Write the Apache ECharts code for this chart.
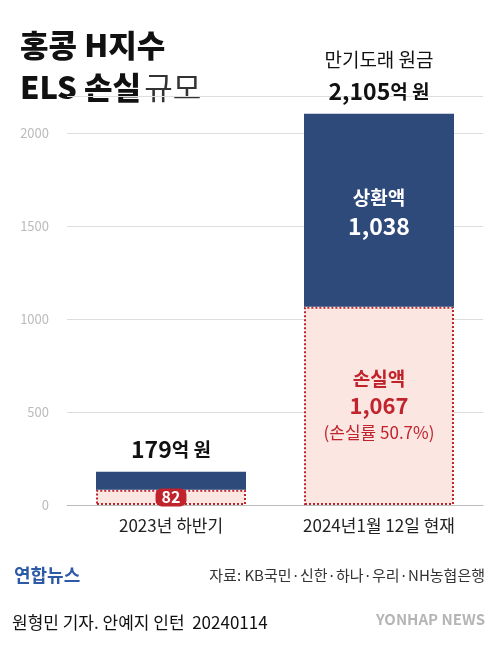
<!DOCTYPE html>
<html><head><meta charset="utf-8">
<script src="https://cdn.jsdelivr.net/npm/echarts@6/dist/echarts.min.js"></script>
<style>html,body{margin:0;padding:0;background:#fff}#c{width:499px;height:652px}</style>
</head><body><div id="c"></div>
<script>
const categories = ['2023년 하반기', '2024년1월 12일 현재'];
const lossValues = [82, 1067];
const repaidValues = [97, 1038];
const totals = [179, 2105];
const yTicks = [0, 500, 1000, 1500, 2000];

const F = '"Noto Sans CJK KR", sans-serif';
const chart = echarts.init(document.getElementById('c'));
chart.setOption({
  animation: false,
  grid: {left: 67, right: 16, top: 96, bottom: 147},
  xAxis: {type: 'category', data: categories,
    axisLine: {lineStyle: {color: '#bbb'}}, axisTick: {show: false},
    axisLabel: {color: '#222', fontSize: 17, fontFamily: F, margin: 12}},
  yAxis: {type: 'value', min: 0, max: 2200, interval: 500,
    axisLabel: {color: '#bbb', fontSize: 13, fontFamily: F, margin: 18,
      formatter: v => yTicks.includes(v) ? String(v) : ''},
    splitLine: {lineStyle: {color: '#ddd'}}},
  series: [
    {type: 'bar', stack: 's', barWidth: 150, data: lossValues.map((v, i) => ({value: v,
        label: i === 0 ? {show: true, position: 'inside', formatter: String(v),
          backgroundColor: '#c0232b', color: '#fff', fontWeight: 'bold', fontSize: 16,
          padding: [1, 6], borderRadius: 6, fontFamily: F}
        : {show: true, position: 'inside', fontFamily: F, formatter: '{a|손실액}\n{b|' + v.toLocaleString() + '}\n{c|(손실률 50.7%)}',
          rich: {a: {color: '#c0232b', fontSize: 19, fontWeight: 'bold', lineHeight: 26, fontFamily: F},
                 b: {color: '#c0232b', fontSize: 22, fontWeight: 'bold', lineHeight: 28, fontFamily: F},
                 c: {color: '#c0232b', fontSize: 17, lineHeight: 26, fontFamily: F}}}})),
      itemStyle: {color: '#fbe6e2', borderColor: '#c0232b', borderWidth: 2, borderType: 'dotted'}},
    {type: 'bar', stack: 's', barWidth: 150, data: repaidValues.map((v, i) => ({value: v,
        label: {show: true, position: 'top', distance: 6, fontFamily: F,
          formatter: i === 0 ? '{b|' + totals[0] + '}{c|억 원}' : '{a|만기도래 원금}\n{b|' + totals[1].toLocaleString() + '}{c|억 원}',
          rich: {a: {color: '#111', fontSize: 19, lineHeight: 32, fontFamily: F},
                 b: {color: '#111', fontSize: 23, fontWeight: 'bold', lineHeight: 32, fontFamily: F},
                 c: {color: '#111', fontSize: 19, fontWeight: 'bold', lineHeight: 32, fontFamily: F}}}})),
      itemStyle: {color: '#2d4a7a'}},
    {type: 'bar', stack: 's3', barGap: '-100%', barWidth: 150, silent: true, itemStyle: {color: 'transparent'},
     data: [{value: 0, label: {show: false}}, {value: totals[1], label: {show: true, position: 'insideTop', distance: 70, fontFamily: F,
       formatter: '{a|상환액}\n{b|' + repaidValues[1].toLocaleString() + '}',
       rich: {a: {color: '#fff', fontSize: 19, fontWeight: 'bold', lineHeight: 28, fontFamily: F},
              b: {color: '#fff', fontSize: 23, fontWeight: 'bold', lineHeight: 30, fontFamily: F}}}}]}
  ],
  graphic: [
    {type: 'text', left: 20, top: 30, style: {text: '홍콩 H지수', font: '900 31px ' + F, fill: '#111'}},
    {type: 'text', left: 20, top: 72, style: {text: '{b|ELS 손실} {l|규모}', rich: {
      b: {font: '900 31px ' + F, fill: '#111'}, l: {font: '31px ' + F, fill: '#333'}}}},
    {type: 'text', left: 14, top: 566, style: {text: '연합뉴스', font: 'bold 18px ' + F, fill: '#2d5aa6'}},
    {type: 'text', right: 14, top: 568, style: {text: '자료: KB국민·신한·하나·우리·NH농협은행', font: '15px ' + F, fill: '#333'}},
    {type: 'text', left: 12, top: 614, style: {text: '원형민 기자. 안예지 인턴  20240114', font: '17px ' + F, fill: '#111'}},
    {type: 'text', right: 14, top: 612, style: {text: 'YONHAP NEWS', font: 'bold 15px ' + F, fill: 'rgba(120,120,120,0.55)'}}
  ]
});
</script></body></html>
